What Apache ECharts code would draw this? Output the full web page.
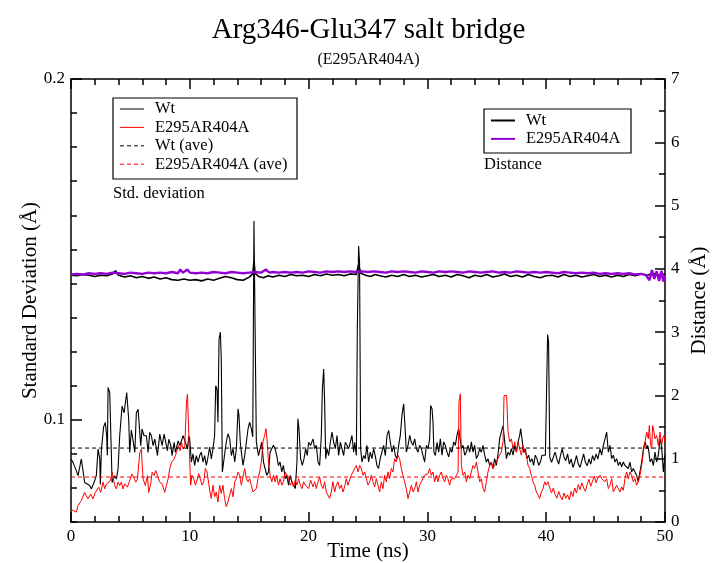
<!DOCTYPE html>
<html><head><meta charset="utf-8">
<script src="https://cdn.jsdelivr.net/npm/echarts@6/dist/echarts.min.js"></script>
<style>html,body{margin:0;padding:0;background:#fff}#c{width:712px;height:563px}</style>
</head><body><div id="c"></div>
<script>
const timeRange = [0, 50];
const stdLabelTicks = [0.1, 0.2];
const wtAve = 0.0917;
const mutAve = 0.0832;
const stdLegend = ['Wt', 'E295AR404A', 'Wt (ave)', 'E295AR404A (ave)'];
const distLegend = ['Wt', 'E295AR404A'];

const wtStd = [
[0,0.0885],[0.17,0.0875],[0.45,0.0850],[0.59,0.0836],[0.87,0.0885],[1.15,0.0816],[1.29,0.0820],[1.57,0.0807],[1.71,0.0797],[1.94,0.0816],[2.13,0.0836],[2.28,0.0914],[2.42,0.0885],[2.47,0.0810],[2.56,0.0914],[2.75,0.0980],[2.89,0.0992],[3.0,0.0953],[3.06,0.0895],[3.12,0.1095],[3.26,0.1080],[3.46,0.0816],[3.68,0.0836],[3.82,0.0826],[3.96,0.0856],[4.1,0.0953],[4.3,0.1040],[4.47,0.1020],[4.69,0.1080],[4.86,0.1000],[4.94,0.0904],[5.08,0.0970],[5.22,0.0940],[5.37,0.0904],[5.5,0.1020],[5.65,0.1031],[5.79,0.0963],[5.87,0.0924],[5.98,0.0973],[6.15,0.0953],[6.35,0.0953],[6.49,0.0904],[6.63,0.0963],[6.77,0.0953],[6.91,0.0924],[7.05,0.0943],[7.28,0.0895],[7.47,0.0958],[7.67,0.0924],[7.84,0.0958],[7.95,0.0938],[8.12,0.0909],[8.23,0.0943],[8.4,0.0924],[8.51,0.0895],[8.68,0.0934],[8.79,0.0904],[9.02,0.0938],[9.16,0.0924],[9.44,0.0953],[9.63,0.0934],[9.8,0.0914],[9.92,0.0953],[9.99,0.0944],[10.13,0.0876],[10.27,0.0900],[10.41,0.0866],[10.55,0.0895],[10.69,0.0876],[10.83,0.0895],[10.97,0.0905],[11.11,0.0876],[11.25,0.0895],[11.39,0.0866],[11.53,0.0890],[11.67,0.0920],[11.81,0.0885],[11.95,0.0915],[12.09,0.0954],[12.18,0.1100],[12.29,0.1090],[12.37,0.0993],[12.46,0.1237],[12.57,0.1257],[12.65,0.1179],[12.74,0.0847],[12.85,0.0876],[12.99,0.0915],[13.07,0.0934],[13.21,0.0959],[13.36,0.0944],[13.5,0.0895],[13.64,0.0915],[13.78,0.0876],[13.92,0.0915],[14.06,0.1032],[14.14,0.1012],[14.25,0.0934],[14.34,0.0905],[14.48,0.0866],[14.62,0.0895],[14.76,0.0934],[14.9,0.0973],[15.04,0.0993],[15.18,0.0973],[15.3,0.0950],[15.4,0.1583],[15.6,0.0935],[15.78,0.0895],[15.92,0.0915],[16.06,0.0934],[16.2,0.0876],[16.34,0.0857],[16.48,0.0837],[16.62,0.0847],[16.76,0.0905],[16.9,0.0915],[17.04,0.0925],[17.18,0.0915],[17.32,0.0895],[17.46,0.0866],[17.6,0.0876],[17.74,0.0847],[17.88,0.0866],[18.03,0.0827],[18.17,0.0837],[18.31,0.0808],[18.45,0.0837],[18.59,0.0818],[18.73,0.0808],[18.88,0.0798],[19.02,0.0876],[19.1,0.1003],[19.19,0.0973],[19.33,0.0885],[19.47,0.0866],[19.61,0.0885],[19.75,0.0915],[19.89,0.0895],[20.0,0.0934],[20.17,0.0925],[20.37,0.0944],[20.51,0.0915],[20.65,0.0925],[20.79,0.0876],[20.93,0.0866],[21.07,0.0954],[21.16,0.1090],[21.27,0.1149],[21.35,0.1051],[21.44,0.0886],[21.55,0.0915],[21.69,0.0895],[21.83,0.0934],[21.97,0.0964],[22.11,0.0934],[22.25,0.0915],[22.39,0.0954],[22.53,0.0895],[22.67,0.0934],[22.81,0.0915],[22.95,0.0895],[23.09,0.0934],[23.23,0.0925],[23.37,0.0915],[23.51,0.0934],[23.65,0.0954],[23.79,0.0905],[23.88,0.0934],[24.02,0.0895],[24.1,0.1265],[24.21,0.1510],[24.29,0.1461],[24.38,0.0915],[24.49,0.0876],[24.63,0.0895],[24.77,0.0886],[24.91,0.0925],[25.05,0.0876],[25.19,0.0905],[25.33,0.0886],[25.47,0.0915],[25.61,0.0895],[25.75,0.0866],[25.89,0.0857],[26.03,0.0886],[26.17,0.0905],[26.32,0.0925],[26.46,0.0895],[26.6,0.0954],[26.74,0.0969],[26.88,0.0934],[27.02,0.0905],[27.16,0.0925],[27.3,0.0895],[27.44,0.0886],[27.58,0.0925],[27.72,0.0954],[27.86,0.1013],[28.0,0.1047],[28.11,0.0983],[28.23,0.0905],[28.37,0.0925],[28.51,0.0954],[28.65,0.0934],[28.79,0.0925],[28.93,0.0944],[29.07,0.0915],[29.21,0.0905],[29.35,0.0925],[29.49,0.0915],[29.63,0.0895],[29.77,0.0876],[29.91,0.0925],[30.05,0.0915],[30.19,0.0944],[30.27,0.1042],[30.39,0.1032],[30.47,0.0993],[30.55,0.0905],[30.67,0.0895],[30.81,0.0934],[30.95,0.0905],[31.09,0.0944],[31.23,0.0896],[31.37,0.0935],[31.51,0.0925],[31.65,0.0905],[31.79,0.0891],[31.93,0.0915],[32.07,0.0905],[32.21,0.0935],[32.35,0.0925],[32.49,0.0954],[32.63,0.0974],[32.72,0.0954],[32.86,0.0915],[33.0,0.0925],[33.14,0.0896],[33.28,0.0905],[33.42,0.0925],[33.56,0.0905],[33.7,0.0935],[33.84,0.0905],[33.98,0.0925],[34.12,0.0886],[34.26,0.0896],[34.4,0.0915],[34.54,0.0905],[34.68,0.0925],[34.82,0.0896],[34.96,0.0876],[35.1,0.0886],[35.24,0.0866],[35.38,0.0876],[35.52,0.0857],[35.66,0.0886],[35.8,0.0866],[35.94,0.0896],[36.08,0.0944],[36.22,0.0964],[36.37,0.0983],[36.51,0.0935],[36.65,0.0886],[36.79,0.0905],[36.93,0.0896],[37.07,0.0915],[37.21,0.0896],[37.35,0.0925],[37.49,0.0905],[37.63,0.0935],[37.77,0.0954],[37.85,0.0974],[37.96,0.0944],[38.1,0.0905],[38.24,0.0915],[38.38,0.0886],[38.52,0.0896],[38.66,0.0876],[38.8,0.0886],[38.94,0.0866],[39.08,0.0896],[39.22,0.0886],[39.37,0.0866],[39.51,0.0876],[39.65,0.0896],[39.79,0.0891],[39.93,0.0896],[40.05,0.0900],[40.12,0.1250],[40.2,0.1230],[40.3,0.0890],[40.45,0.0875],[40.6,0.0890],[40.75,0.0905],[40.9,0.0885],[41.05,0.0870],[41.2,0.0895],[41.35,0.0915],[41.5,0.0890],[41.65,0.0880],[41.8,0.0900],[41.95,0.0870],[42.1,0.0885],[42.25,0.0860],[42.4,0.0875],[42.55,0.0895],[42.7,0.0870],[42.85,0.0860],[43.0,0.0880],[43.15,0.0900],[43.3,0.0875],[43.45,0.0865],[43.6,0.0885],[43.75,0.0870],[43.9,0.0895],[44.05,0.0880],[44.2,0.0900],[44.35,0.0885],[44.53,0.0915],[44.67,0.0896],[44.81,0.0925],[44.95,0.0944],[45.09,0.0964],[45.23,0.0905],[45.37,0.0925],[45.51,0.0886],[45.65,0.0896],[45.79,0.0876],[45.93,0.0886],[46.07,0.0866],[46.21,0.0876],[46.35,0.0862],[46.49,0.0876],[46.63,0.0866],[46.77,0.0871],[46.91,0.0857],[47.05,0.0876],[47.19,0.0847],[47.33,0.0857],[47.47,0.0847],[47.61,0.0837],[47.75,0.0818],[47.89,0.0847],[48.04,0.0876],[48.18,0.0915],[48.32,0.0935],[48.46,0.0915],[48.54,0.0925],[48.65,0.0905],[48.74,0.0876],[48.88,0.0886],[49.02,0.0866],[49.16,0.0905],[49.3,0.0876],[49.44,0.0896],[49.58,0.0944],[49.66,0.0935],[49.75,0.0905],[49.86,0.0847],[50.0,0.0896]
];

const mutStd = [
[0,0.0735],[0.17,0.0734],[0.31,0.0738],[0.45,0.0729],[0.59,0.0748],[0.87,0.0763],[1.15,0.0787],[1.29,0.0777],[1.43,0.0768],[1.66,0.0782],[1.85,0.0768],[2.05,0.0787],[2.16,0.0782],[2.33,0.0802],[2.5,0.0787],[2.7,0.0817],[2.84,0.0797],[2.98,0.0812],[3.12,0.0807],[3.31,0.0821],[3.46,0.0846],[3.57,0.0826],[3.68,0.0807],[3.82,0.0797],[3.96,0.0817],[4.1,0.0807],[4.24,0.0817],[4.38,0.0797],[4.52,0.0812],[4.75,0.0802],[4.89,0.0817],[5.14,0.0841],[5.28,0.0846],[5.45,0.0817],[5.59,0.0826],[5.79,0.0904],[5.93,0.0914],[5.98,0.0875],[6.07,0.0826],[6.26,0.0807],[6.43,0.0836],[6.54,0.0787],[6.71,0.0812],[6.83,0.0846],[6.99,0.0836],[7.13,0.0851],[7.28,0.0836],[7.47,0.0817],[7.67,0.0812],[7.78,0.0807],[7.89,0.0787],[8.03,0.0807],[8.17,0.0826],[8.31,0.0856],[8.46,0.0875],[8.68,0.0885],[8.88,0.0904],[9.02,0.0924],[9.19,0.0909],[9.3,0.0934],[9.44,0.0914],[9.58,0.0924],[9.72,0.1051],[9.8,0.1075],[9.92,0.0953],[10.03,0.0846],[10.07,0.0808],[10.18,0.0837],[10.33,0.0827],[10.47,0.0808],[10.61,0.0823],[10.75,0.0842],[10.89,0.0837],[11.03,0.0808],[11.17,0.0818],[11.31,0.0857],[11.45,0.0847],[11.59,0.0847],[11.7,0.0788],[11.81,0.0769],[11.95,0.0808],[12.09,0.0774],[12.23,0.0788],[12.37,0.0759],[12.51,0.0808],[12.65,0.0784],[12.79,0.0808],[12.93,0.0769],[13.07,0.0745],[13.21,0.0759],[13.36,0.0779],[13.5,0.0798],[13.64,0.0774],[13.78,0.0818],[13.92,0.0827],[14.06,0.0847],[14.2,0.0837],[14.34,0.0808],[14.48,0.0832],[14.62,0.0857],[14.76,0.0827],[14.9,0.0818],[15.04,0.0827],[15.18,0.0808],[15.32,0.0788],[15.46,0.0788],[15.6,0.0798],[15.74,0.0827],[15.88,0.0847],[16.02,0.0876],[16.16,0.0935],[16.3,0.0954],[16.41,0.0974],[16.52,0.0935],[16.62,0.0876],[16.76,0.0837],[16.9,0.0818],[17.04,0.0837],[17.18,0.0818],[17.32,0.0837],[17.46,0.0808],[17.6,0.0827],[17.74,0.0808],[17.88,0.0818],[18.03,0.0847],[18.17,0.0837],[18.31,0.0827],[18.45,0.0808],[18.59,0.0818],[18.73,0.0803],[18.88,0.0823],[19.02,0.0808],[19.16,0.0827],[19.3,0.0808],[19.44,0.0798],[19.58,0.0818],[19.72,0.0808],[19.86,0.0808],[20.0,0.0798],[20.17,0.0823],[20.37,0.0803],[20.51,0.0818],[20.65,0.0798],[20.79,0.0818],[20.93,0.0832],[21.07,0.0808],[21.21,0.0798],[21.35,0.0818],[21.49,0.0788],[21.63,0.0779],[21.77,0.0769],[21.91,0.0788],[22.05,0.0818],[22.19,0.0788],[22.33,0.0808],[22.47,0.0818],[22.61,0.0798],[22.75,0.0808],[22.89,0.0788],[23.03,0.0803],[23.17,0.0827],[23.31,0.0808],[23.45,0.0823],[23.59,0.0837],[23.73,0.0832],[23.88,0.0857],[24.02,0.0866],[24.16,0.0847],[24.3,0.0866],[24.44,0.0857],[24.58,0.0837],[24.72,0.0847],[24.86,0.0827],[25.0,0.0808],[25.14,0.0818],[25.28,0.0837],[25.42,0.0818],[25.56,0.0803],[25.7,0.0827],[25.84,0.0808],[25.98,0.0788],[26.12,0.0818],[26.26,0.0798],[26.4,0.0837],[26.54,0.0818],[26.68,0.0847],[26.82,0.0827],[26.96,0.0857],[27.1,0.0847],[27.24,0.0886],[27.38,0.0876],[27.52,0.0896],[27.66,0.0886],[27.8,0.0857],[27.94,0.0837],[28.08,0.0818],[28.22,0.0798],[28.37,0.0769],[28.51,0.0788],[28.65,0.0808],[28.79,0.0788],[28.93,0.0798],[29.07,0.0818],[29.21,0.0788],[29.35,0.0808],[29.49,0.0818],[29.63,0.0823],[29.77,0.0837],[29.91,0.0832],[30.05,0.0842],[30.19,0.0857],[30.33,0.0837],[30.47,0.0847],[30.61,0.0818],[30.75,0.0837],[30.89,0.0818],[31.03,0.0837],[31.17,0.0847],[31.31,0.0827],[31.45,0.0818],[31.59,0.0837],[31.73,0.0827],[31.87,0.0808],[32.01,0.0827],[32.15,0.0832],[32.29,0.0827],[32.44,0.0832],[32.58,0.0847],[32.66,0.1052],[32.77,0.1076],[32.86,0.0866],[33.0,0.0837],[33.14,0.0847],[33.28,0.0818],[33.42,0.0837],[33.56,0.0827],[33.7,0.0847],[33.84,0.0866],[33.98,0.0857],[34.12,0.0876],[34.26,0.0847],[34.4,0.0818],[34.54,0.0827],[34.68,0.0798],[34.82,0.0788],[34.96,0.0818],[35.1,0.0847],[35.24,0.0866],[35.38,0.0876],[35.52,0.0857],[35.66,0.0866],[35.8,0.0876],[35.94,0.0886],[36.08,0.0896],[36.22,0.0905],[36.37,0.0935],[36.45,0.1071],[36.56,0.1076],[36.67,0.1071],[36.79,0.0964],[36.93,0.0935],[37.07,0.0944],[37.21,0.0915],[37.35,0.0935],[37.49,0.0905],[37.63,0.0935],[37.77,0.0915],[37.91,0.0896],[38.05,0.0925],[38.19,0.0905],[38.33,0.0896],[38.47,0.0866],[38.61,0.0857],[38.75,0.0837],[38.89,0.0818],[39.03,0.0808],[39.17,0.0788],[39.31,0.0779],[39.45,0.0769],[39.59,0.0788],[39.73,0.0798],[39.87,0.0818],[40.01,0.0808],[40.15,0.0818],[40.3,0.0800],[40.45,0.0785],[40.6,0.0800],[40.75,0.0780],[40.9,0.0770],[41.05,0.0790],[41.2,0.0775],[41.35,0.0765],[41.5,0.0785],[41.65,0.0770],[41.8,0.0780],[41.95,0.0765],[42.1,0.0790],[42.25,0.0775],[42.4,0.0800],[42.55,0.0785],[42.7,0.0810],[42.85,0.0795],[43.0,0.0815],[43.15,0.0800],[43.3,0.0790],[43.45,0.0810],[43.6,0.0825],[43.75,0.0805],[43.9,0.0820],[44.05,0.0835],[44.2,0.0815],[44.35,0.0830],[44.53,0.0837],[44.67,0.0827],[44.81,0.0832],[44.95,0.0818],[45.09,0.0827],[45.23,0.0798],[45.37,0.0808],[45.51,0.0827],[45.65,0.0788],[45.79,0.0793],[45.93,0.0808],[46.07,0.0798],[46.21,0.0788],[46.35,0.0803],[46.49,0.0793],[46.63,0.0827],[46.77,0.0847],[46.91,0.0827],[47.05,0.0847],[47.19,0.0837],[47.33,0.0818],[47.47,0.0827],[47.61,0.0808],[47.75,0.0818],[47.89,0.0837],[48.04,0.0866],[48.18,0.0905],[48.32,0.0935],[48.46,0.0964],[48.6,0.0944],[48.68,0.0983],[48.79,0.0925],[48.88,0.0915],[48.96,0.0983],[49.07,0.0964],[49.16,0.0944],[49.3,0.0954],[49.44,0.0925],[49.58,0.0964],[49.72,0.0925],[49.8,0.0944],[49.91,0.0954],[50.0,0.0935]
];

const wtDist = [
[0,3.90],[0.5,3.89],[1,3.91],[1.5,3.90],[2,3.88],[2.5,3.90],[3,3.89],[3.5,3.92],[3.75,3.97],[4,3.90],[4.5,3.87],[5,3.89],[5.5,3.86],[6,3.88],[6.5,3.85],[7,3.87],[7.5,3.84],[8,3.86],[8.5,3.83],[9,3.82],[9.5,3.84],[10,3.82],[10.5,3.83],[11,3.81],[11.5,3.84],[12,3.82],[12.5,3.85],[13,3.88],[13.5,3.86],[14,3.83],[14.5,3.82],[15,3.87],[15.3,3.92],[15.4,4.12],[15.5,3.93],[15.8,3.88],[16.2,3.86],[16.6,3.89],[17,3.87],[17.5,3.90],[18,3.88],[18.5,3.91],[19,3.89],[19.5,3.90],[20,3.88],[20.5,3.91],[21,3.89],[21.5,3.92],[22,3.90],[22.5,3.91],[23,3.89],[23.5,3.92],[24,3.91],[24.2,4.06],[24.4,3.93],[24.8,3.90],[25.2,3.88],[25.6,3.91],[26,3.89],[26.5,3.87],[27,3.90],[27.5,3.88],[28,3.91],[28.5,3.88],[29,3.90],[29.5,3.87],[30,3.89],[30.5,3.91],[31,3.88],[31.5,3.90],[32,3.87],[32.5,3.91],[33,3.89],[33.5,3.86],[34,3.90],[34.5,3.88],[35,3.91],[35.5,3.87],[36,3.89],[36.5,3.92],[37,3.88],[37.5,3.90],[38,3.87],[38.5,3.91],[39,3.88],[39.5,3.86],[40,3.89],[40.5,3.90],[41,3.87],[41.5,3.91],[42,3.88],[42.5,3.90],[43,3.87],[43.5,3.89],[44,3.91],[44.5,3.88],[45,3.90],[45.5,3.87],[46,3.90],[46.5,3.88],[47,3.91],[47.5,3.89],[48,3.92],[48.5,3.90],[49,3.93],[49.5,3.90],[50,3.92]
];

const mutDist = [
[0,3.91],[0.5,3.92],[1,3.91],[1.5,3.93],[2,3.92],[2.5,3.93],[3,3.92],[3.5,3.94],[4,3.93],[4.5,3.92],[5,3.94],[5.5,3.93],[6,3.92],[6.5,3.94],[7,3.93],[7.5,3.94],[8,3.93],[8.5,3.95],[9,3.93],[9.2,3.99],[9.4,3.94],[9.8,3.99],[10,3.94],[10.5,3.93],[11,3.94],[11.5,3.93],[12,3.95],[12.5,3.94],[13,3.93],[13.5,3.95],[14,3.94],[14.5,3.93],[15,3.94],[15.5,3.95],[16,3.94],[16.4,3.99],[16.7,3.94],[17,3.95],[17.5,3.94],[18,3.95],[18.5,3.94],[19,3.95],[19.5,3.94],[20,3.96],[20.5,3.95],[21,3.94],[21.5,3.96],[22,3.95],[22.5,3.96],[23,3.95],[23.5,3.96],[24,3.95],[24.5,3.96],[25,3.95],[25.5,3.96],[26,3.95],[26.5,3.94],[27,3.96],[27.5,3.95],[28,3.96],[28.5,3.95],[29,3.94],[29.5,3.96],[30,3.95],[30.5,3.94],[31,3.96],[31.5,3.95],[32,3.96],[32.5,3.95],[33,3.94],[33.5,3.96],[34,3.95],[34.5,3.94],[35,3.95],[35.5,3.96],[36,3.94],[36.5,3.95],[37,3.94],[37.5,3.96],[38,3.95],[38.5,3.94],[39,3.95],[39.5,3.94],[40,3.95],[40.5,3.94],[41,3.93],[41.5,3.95],[42,3.94],[42.5,3.93],[43,3.94],[43.5,3.93],[44,3.94],[44.5,3.92],[45,3.93],[45.5,3.92],[46,3.93],[46.5,3.92],[47,3.93],[47.5,3.91],[48,3.92],[48.4,3.90],[48.7,3.82],[48.9,3.98],[49.1,3.84],[49.3,3.96],[49.5,3.81],[49.7,3.97],[49.85,3.80],[50,3.90]
];

const F = 'Liberation Serif';
const BLACK = '#000000', RED = '#ff0000', VIOLET = '#9400d3';
const chart = echarts.init(document.getElementById('c'), null, {renderer: 'canvas'});

const axLine = {show: true, lineStyle: {color: BLACK, width: 1.5}};
const tickStyle = {color: BLACK, width: 1.5};
const lbl = {fontFamily: F, fontSize: 17, color: BLACK, margin: 6};
const nameStyle = {fontFamily: F, fontSize: 21, color: BLACK};

function txt(x, y, text, size, align) {
  return {type: 'text', x: x, y: y, z: 100,
    style: {text: text, fontFamily: F, fontSize: size, fill: BLACK,
      align: align || 'left', verticalAlign: 'middle',
      textAlign: align || 'left', textVerticalAlign: 'middle'}};
}
function seg(x1, x2, y, color, w, dash) {
  return {type: 'line', z: 100, shape: {x1: x1, y1: y, x2: x2, y2: y},
    style: {stroke: color, lineWidth: w, lineDash: dash || null}};
}

const graphics = [
  txt(368.5, 30, 'Arg346-Glu347 salt bridge', 29, 'center'),
  txt(368.5, 60, '(E295AR404A)', 16, 'center'),
  {type: 'rect', z: 99, shape: {x: 113, y: 98, width: 184, height: 81},
    style: {fill: '#fff', stroke: BLACK, lineWidth: 1.2}},
  {type: 'rect', z: 99, shape: {x: 484, y: 109, width: 147, height: 44},
    style: {fill: '#fff', stroke: BLACK, lineWidth: 1.2}},
  txt(113, 194, 'Std. deviation', 16.5),
  txt(484, 165, 'Distance', 16.5)
];
const stdStyles = [[BLACK, 1, null], [RED, 1, null], [BLACK, 1, [4, 3]], [RED, 1, [4, 3]]];
stdLegend.forEach((name, i) => {
  const y = 109 + i * 18.4;
  graphics.push(seg(120, 144, y, stdStyles[i][0], stdStyles[i][1], stdStyles[i][2]));
  graphics.push(txt(155, y, name, 16.5));
});
const distStyles = [[BLACK, 2], [VIOLET, 2]];
distLegend.forEach((name, i) => {
  const y = 120.5 + i * 18.4;
  graphics.push(seg(491, 515, y, distStyles[i][0], distStyles[i][1]));
  graphics.push(txt(526, y, name, 16.5));
});

function lineSeries(name, data, yIdx, color, width, dash, z) {
  return {type: 'line', name: name, data: data, xAxisIndex: 0, yAxisIndex: yIdx,
    showSymbol: false, symbol: 'none', animation: false, z: z,
    lineStyle: {color: color, width: width, type: dash || 'solid'},
    itemStyle: {color: color}, emphasis: {disabled: true}};
}

const option = {
  backgroundColor: '#ffffff',
  animation: false,
  grid: {left: 71, right: 47, top: 79, bottom: 41, containLabel: false, outerBoundsMode: 'none'},
  xAxis: [
    {type: 'value', position: 'bottom', min: timeRange[0], max: timeRange[1], interval: 10,
      axisLine: axLine, axisTick: {show: true, inside: true, length: 10, lineStyle: tickStyle},
      minorTick: {show: true, splitNumber: 5, length: 6, lineStyle: tickStyle},
      splitLine: {show: false}, minorSplitLine: {show: false},
      axisLabel: lbl,
      name: 'Time (ns)', nameLocation: 'middle', nameGap: 19, nameMoveOverlap: false,
      nameTextStyle: nameStyle},
    {type: 'value', position: 'top', min: timeRange[0], max: timeRange[1], interval: 10,
      axisLine: axLine, axisTick: {show: true, inside: true, length: 10, lineStyle: tickStyle},
      minorTick: {show: true, splitNumber: 5, length: 6, lineStyle: tickStyle},
      splitLine: {show: false}, axisLabel: {show: false}}
  ],
  yAxis: [
    {type: 'value', position: 'left', min: 0.07, max: 0.2, interval: 0.01,
      axisLine: axLine, axisTick: {show: true, inside: true, length: 6, lineStyle: tickStyle},
      splitLine: {show: false},
      axisLabel: Object.assign({}, lbl, {formatter: v => {
        const hit = stdLabelTicks.find(s => Math.abs(s - v) < 1e-6);
        return hit === undefined ? '' : String(hit);
      }}),
      name: 'Standard Deviation (Å)', nameLocation: 'middle', nameRotate: 90, nameGap: 30,
      nameMoveOverlap: false, nameTextStyle: nameStyle},
    {type: 'value', position: 'left', min: 0.07, max: 0.2,
      axisLine: {show: false},
      axisTick: {show: true, inside: true, length: 11, lineStyle: tickStyle, customValues: stdLabelTicks},
      axisLabel: {show: false}, splitLine: {show: false}},
    {type: 'value', position: 'right', min: 0, max: 7, interval: 1,
      axisLine: axLine, axisTick: {show: true, inside: true, length: 10, lineStyle: tickStyle},
      minorTick: {show: true, splitNumber: 2, length: 6, lineStyle: tickStyle},
      splitLine: {show: false}, minorSplitLine: {show: false},
      axisLabel: lbl,
      name: 'Distance (Å)', nameLocation: 'middle', nameRotate: 90, nameGap: 24,
      nameMoveOverlap: false, nameTextStyle: nameStyle}
  ],
  series: [
    lineSeries('Wt', wtStd, 0, BLACK, 1.1, null, 2),
    lineSeries('E295AR404A', mutStd, 0, RED, 1, null, 3),
    lineSeries('Wt (ave)', [[timeRange[0], wtAve], [timeRange[1], wtAve]], 0, BLACK, 1, [4, 3], 4),
    lineSeries('E295AR404A (ave)', [[timeRange[0], mutAve], [timeRange[1], mutAve]], 0, RED, 1, [4, 3], 4),
    lineSeries('Wt distance', wtDist, 2, BLACK, 1.6, null, 5),
    lineSeries('E295AR404A distance', mutDist, 2, VIOLET, 2.4, null, 6)
  ],
  graphic: graphics
};
chart.setOption(option);
</script>
</body></html>
